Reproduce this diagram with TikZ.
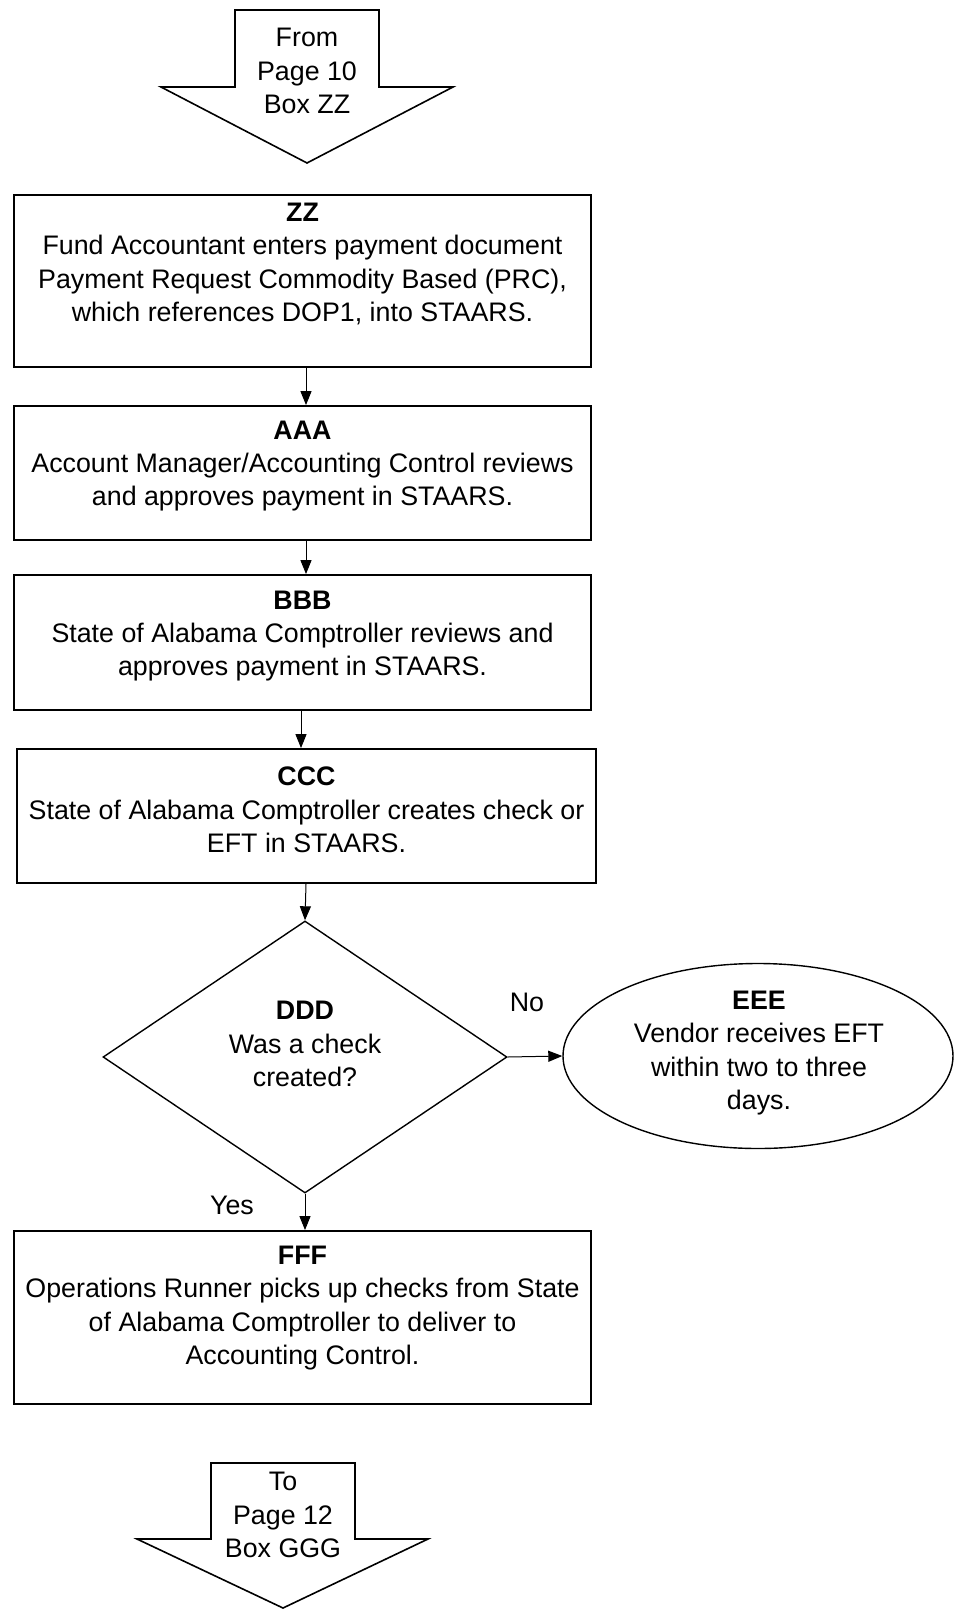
\documentclass[tikz,border=0pt]{standalone}
\usepackage{fontspec}
\setmainfont{Liberation Sans}
\usetikzlibrary{shapes.geometric,arrows.meta,calc}
\begin{document}
\begin{tikzpicture}[x=0.5pt,y=-0.5pt,
  box/.style={draw, line width=0.9pt, rectangle, inner sep=0pt},
  txt/.style={align=center, inner sep=0pt, font=\fontsize{13.4}{16.7}\selectfont},
  arr/.style={line width=0.5pt, -{Triangle[length=7pt,width=5.5pt]}},
  pagearrow/.style={draw, line width=0.8pt, line join=miter}]
\useasboundingbox (0,0) rectangle (955,1610);
\coordinate (col) at (306,0);
% top off-page connector
\draw[pagearrow] (235,10) -- (379,10) -- (379,87) -- (453,87) -- (307,163) -- (161,87) -- (235,87) -- cycle;
\node[txt] (from) at (307,71) {From\\Page 10\\Box ZZ};
% process boxes
\node[box, minimum width=288.5pt, minimum height=86pt] (zz) at (302.5,281) {};
\node[txt] (zzt) at (302.5,264) {\textbf{ZZ}\\Fund Accountant enters payment document\\Payment Request Commodity Based (PRC),\\which references DOP1, into STAARS.};
\node[box, minimum width=288.5pt, minimum height=67pt] (aaa) at (302.5,473) {};
\node[txt] (aaat) at (302.5,466) {\textbf{AAA}\\Account Manager/Accounting Control reviews\\and approves payment in STAARS.};
\node[box, minimum width=288.5pt, minimum height=67.5pt] (bbb) at (302.5,642.5) {};
\node[txt] (bbbt) at (302.5,636) {\textbf{BBB}\\State of Alabama Comptroller reviews and\\approves payment in STAARS.};
\node[box, minimum width=289.5pt, minimum height=67pt] (ccc) at (306.5,816) {};
\node[txt] (ccct) at (306.5,810) {\textbf{CCC}\\State of Alabama Comptroller creates check or\\EFT in STAARS.};
\node[draw, diamond, line width=0.7pt, inner sep=0pt, minimum width=202pt, minimum height=136pt] (ddd) at (305,1057) {};
\node[txt] (dddt) at (305,1044) {\textbf{DDD}\\Was a check\\created?};
\node[draw, ellipse, line width=0.7pt, inner sep=0pt, minimum width=195pt, minimum height=92.5pt] (eee) at (758,1056) {};
\node[txt] (eeet) at (759,1053) {\textbf{EEE}\\Vendor receives EFT\\within two to three\\days.};
\node[box, minimum width=288.5pt, minimum height=86.5pt] (fff) at (302.5,1317.5) {};
\node[txt] (ffft) at (302.5,1308) {\textbf{FFF}\\Operations Runner picks up checks from State\\of Alabama Comptroller to deliver to\\Accounting Control.};
% bottom off-page connector
\draw[pagearrow] (211,1463) -- (355,1463) -- (355,1539) -- (428,1539) -- (283,1608) -- (137,1539) -- (211,1539) -- cycle;
\node[txt] (to) at (283,1515) {To\\Page 12\\Box GGG};
% connectors
\draw[arr] (zz.south -| col) -- (aaa.north -| col);
\draw[arr] (aaa.south -| col) -- (bbb.north -| col);
\draw[arr] ([xshift=-2.5pt]bbb.south -| col) -- ([xshift=-2.5pt]ccc.north -| col);
\draw[arr] (ccc.south -| col) -- (ddd.north);
\draw[arr] (ddd.east) -- (eee.west);
\draw[arr] (ddd.south) -- (fff.north -| ddd.south);
\node[txt] (no) at (527,1002) {No};
\node[txt] (yes) at (232,1205) {Yes};
\end{tikzpicture}
\end{document}
